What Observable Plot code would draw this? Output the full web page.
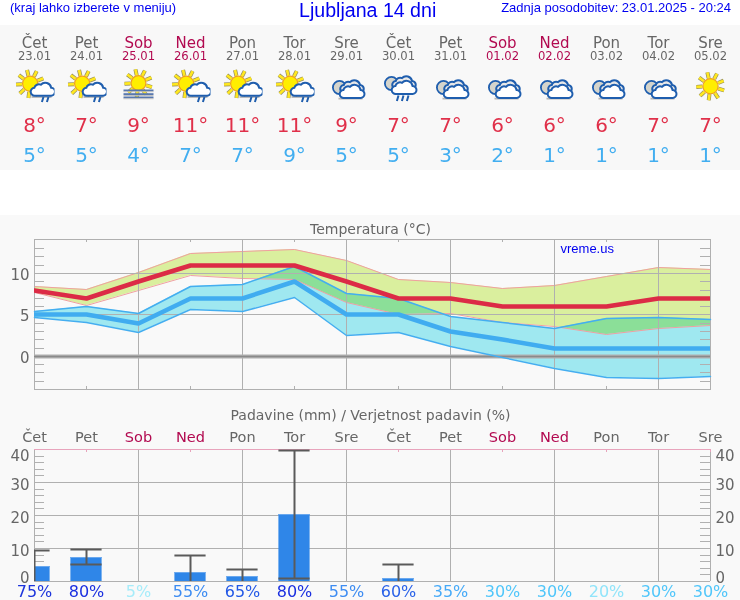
<!DOCTYPE html>
<html><head><meta charset="utf-8">
<script src="https://cdn.jsdelivr.net/npm/d3@7"></script>
<script src="https://cdn.jsdelivr.net/npm/@observablehq/plot@0.6"></script>
<style>
html,body{margin:0;padding:0;background:#fff;overflow:hidden}
#top{position:relative;height:25px;font-family:"Liberation Sans",sans-serif;color:#0000f0}
#top span{position:absolute;white-space:nowrap}
#gap{height:45px;background:#fff}
svg{display:block}
</style></head><body>
<div id="top">
 <span style="left:10px;top:0;font-size:13px;line-height:15px">(kraj lahko izberete v meniju)</span>
 <span style="left:299px;top:0;font-size:19.6px;line-height:20px">Ljubljana 14 dni</span>
 <span style="right:9px;top:0;font-size:13px;line-height:15px">Zadnja posodobitev: 23.01.2025 - 20:24</span>
</div>
<div id="head"></div><div id="gap"></div><div id="temp"></div><div id="rain"></div>
<script>
const names=["Čet","Pet","Sob","Ned","Pon","Tor","Sre","Čet","Pet","Sob","Ned","Pon","Tor","Sre"];
const dates=["23.01","24.01","25.01","26.01","27.01","28.01","29.01","30.01","31.01","01.02","02.02","03.02","04.02","05.02"];
const sky=["sunrain","sunrain","fog","sunrain","sunrain","sunrain","cloud","rain","cloud","cloud","cloud","cloud","cloud","sun"];
const tMax=[8,7,9,11,11,11,9,7,7,6,6,6,7,7];
const tMin=[5,5,4,7,7,9,5,5,3,2,1,1,1,1];
const maxHi=[8.4,8.07,10.16,12.45,12.7,12.93,11.57,9.24,8.9,8.15,8.5,9.64,10.76,10.5];
const maxLo=[7.75,6.14,7.9,9.7,9.44,9.24,6.55,5.1,5.2,4.1,3.6,2.6,3.4,3.7];
const minHi=[5.4,6.06,5.18,8.47,8.7,10.84,7.6,7.0,4.86,4.1,3.4,4.58,4.74,4.46];
const minLo=[4.7,4.1,2.93,5.7,5.38,7.15,2.5,2.9,1.16,-0.1,-1.4,-2.57,-2.7,-2.37];
const precip=[4.5,7.35,0,2.8,1.6,20.4,0,0.8,0,0,0,0,0,0];
const errLo=[0,5.1,0,0,0,1,0,0,0,0,0,0,0,0];
const errHi=[9.3,9.7,0,7.75,3.7,39.8,0,5.1,0,0,0,0,0,0];
const chance=[75,80,5,55,65,80,55,60,35,30,30,20,30,30];
const tempTicks=[0,5,10];
const tempMinor=[-3,-2,-1,1,2,3,4,6,7,8,9,11,12,13];
const rainTicks=[10,20,30];
const rainMinor=[2,4,6,8,12,14,16,18,22,24,26,28,32,34,36,38];

const chanceColor={75:"#1c34dc",80:"#1a2fe0",5:"#a6ecfa",55:"#3d8cf2",65:"#2358e6",60:"#2a62e8",35:"#46aaf8",30:"#50c6fa",20:"#90e4fa"};
const GRAY="#666",WEEKEND="#b20a50",GRID="#b0b0b0",BG="#f9f9f9";
const dayColor=(d,k)=>(names[k]==="Sob"||names[k]==="Ned")?WEEKEND:GRAY;
const days=names.map((_,i)=>i);
const even=days.filter(i=>i%2===0&&i>0&&i<13), odd=days.filter(i=>i%2===1);
const xScale={domain:[0,13],axis:null};
const base={width:740,marginLeft:34,marginRight:30,x:xScale};
const style=bg=>({fontFamily:"'DejaVu Sans'",background:bg,overflow:"visible",display:"block"});
const rows=days.map(i=>({i,maxHi:maxHi[i],maxLo:maxLo[i],minHi:minHi[i],minLo:minLo[i],tMax:tMax[i],tMin:tMin[i],p:precip[i],lo:errLo[i],hi:errHi[i]}));

/* icon glyphs */
function sun(cx,cy,r){let s="";for(let a=0;a<9;a++){const t=a*Math.PI*2/9+0.3,c=Math.cos(t),n=Math.sin(t);
 const l=`x1="${cx+c*(r+1)}" y1="${cy+n*(r+1)}" x2="${cx+c*(r+7)}" y2="${cy+n*(r+7)}"`;
 s+=`<line ${l} stroke="#8f8a60" stroke-width="4"/><line ${l} stroke="#ffe820" stroke-width="2.7"/>`;}
 return s+`<circle cx="${cx}" cy="${cy}" r="${r+.4}" fill="#ffee00" stroke="#f0a020" stroke-width="1.2"/>`;}
const BL="#1f5eae";
function cloud(dx,dy,s,fill){return `<path transform="translate(${dx} ${dy}) scale(${s})" d="M4 16a4 4 0 0 1 -.6 -8a4.8 4.8 0 0 1 6.6 -3.2a6.2 6.2 0 0 1 10.6 3.2a4 4 0 0 1 -.2 8z" fill="${fill}" stroke="${BL}" stroke-width="${2/s}"/>`;}
const shadow=(x,y,w)=>`<rect x="${x}" y="${y}" width="${w}" height="1.8" fill="#888" opacity=".6"/>`;
function drops(xs,y,l){return xs.map(x=>`<line x1="${x}" y1="${y}" x2="${x-1.6}" y2="${y+l}" stroke="${BL}" stroke-width="2"/>`).join("");}
function twoClouds(oy){return `<circle cx="13" cy="${20+oy}" r="6.6" fill="#d4d4cc" stroke="${BL}" stroke-width="1.8"/>`+cloud(14,10+oy,.95,"#e8e8e8")+cloud(13.5,14.5+oy,1,"#fff");}
const iconSvg={
 sunrain:sun(15.7,16.3,7.2)+shadow(17,28.6,20)+cloud(16.5,12.5,.98,"#fff")+drops([29,34],29.5,5),
 fog:sun(20,15.5,7)+[22,25.7,29].map(y=>`<rect x="5" y="${y}" width="30" height="1.8" fill="#5878ae"/><rect x="5" y="${y+1.8}" width="30" height=".9" fill="#bbb"/>`).join(""),
 cloud:shadow(12,30.2,24)+twoClouds(0),
 rain:twoClouds(-4)+drops([20,25,30],28,5.5),
 sun:sun(20,18.7,7.2)
};
const iconSrc=k=>"data:image/svg+xml,"+encodeURIComponent(`<svg xmlns="http://www.w3.org/2000/svg" width="80" height="80" viewBox="0 0 40 40">${iconSvg[k]}</svg>`);

/* header */
const rowText=(vals,size,fill,y,fmt=d=>d)=>Plot.text(vals,{x:(d,k)=>k,text:fmt,frameAnchor:"top",dy:y,lineAnchor:"middle",fontSize:size,fill});
document.getElementById("head").append(Plot.plot({...base,height:145,marginTop:0,marginBottom:0,style:style("#f8f8f8"),
 marks:[
  rowText(names,15,dayColor,17.7),
  rowText(dates,11.6,dayColor,30.7),
  Plot.image(sky,{x:(d,k)=>k,src:iconSrc,width:40,height:40,frameAnchor:"top",dy:62}),
  rowText(tMax,20,"#e0304a",100,d=>d+"°"),
  rowText(tMin,20,"#42aef0",130,d=>d+"°")
 ]}));

/* temperature */
document.getElementById("temp").append(Plot.plot({...base,height:185,marginTop:24,marginBottom:11,style:style(BG),
 y:{domain:[-3.99,14.09],axis:null,round:true},
 marks:[
  Plot.areaY(rows,{x:"i",y1:"maxLo",y2:"maxHi",fill:"#e0f5a2",mixBlendMode:"multiply"}),
  Plot.areaY(rows,{x:"i",y1:"minLo",y2:"minHi",fill:"#a3eef6",mixBlendMode:"multiply"}),
  Plot.line(rows,{x:"i",y:"maxHi",stroke:"#f0a0a0",strokeWidth:1}),
  Plot.line(rows,{x:"i",y:"maxLo",stroke:"#f0a0a0",strokeWidth:1}),
  Plot.ruleY([5,10],{stroke:GRID}),
  Plot.ruleX(even,{stroke:GRID}),
  Plot.ruleY(tempMinor,{x1:0,x2:10/52,stroke:GRID}),
  Plot.ruleY(tempMinor,{x1:13-10/52,x2:13,stroke:GRID}),
  Plot.tickX(odd,{x:d=>d,stroke:GRID,insetBottom:147}),
  Plot.tickX(odd,{x:d=>d,stroke:GRID,insetTop:147}),
  Plot.frame({stroke:GRID}),
  Plot.ruleY([0],{stroke:"#b0b0b0",strokeWidth:4}),
  Plot.ruleY([0],{stroke:"#8a8a8a",strokeWidth:1.4}),
  Plot.line(rows,{x:"i",y:"minHi",stroke:"#44aef0",strokeWidth:1.5}),
  Plot.line(rows,{x:"i",y:"minLo",stroke:"#44aef0",strokeWidth:1.5}),
  Plot.line(rows,{x:"i",y:"tMin",stroke:"#40acf0",strokeWidth:4.5,clip:true}),
  Plot.line(rows,{x:"i",y:"tMax",stroke:"#dc2b46",strokeWidth:4.5,clip:true}),
  Plot.axisY(tempTicks,{anchor:"left",tickSize:0,tickPadding:5,label:null,fontSize:15,color:GRAY,dy:2}),
  Plot.text(["Temperatura (°C)"],{frameAnchor:"top",dy:-10,dx:-2,lineAnchor:"middle",fontSize:14,fill:GRAY}),
  Plot.text(["vreme.us"],{frameAnchor:"top-left",dx:526,dy:9,lineAnchor:"middle",textAnchor:"start",fontSize:13,fontFamily:"Liberation Sans",fill:"#0000f0"})
 ]}));

/* precipitation */
const wet=rows.filter(d=>d.hi>0);
const PINK="#e8a4bc",ERR="#5a5a5a";
const rainAxis=(anchor,ticks,dy)=>Plot.axisY(ticks,{anchor,tickSize:0,tickPadding:5,label:null,fontSize:15,color:GRAY,dy});
document.getElementById("rain").append(Plot.plot({...base,height:200,marginTop:49,marginBottom:19,style:style(BG),
 y:{domain:[0,40],axis:null,round:true},
 marks:[
  Plot.ruleY(rainTicks,{stroke:GRID}),
  Plot.ruleX(even,{stroke:GRID}),
  Plot.ruleY(rainMinor,{x1:0,x2:10/52,stroke:GRID}),
  Plot.ruleY(rainMinor,{x1:13-10/52,x2:13,stroke:GRID}),
  Plot.ruleX([0,13],{stroke:GRID}),
  Plot.ruleY([0],{stroke:GRID}),
  Plot.ruleY([40],{stroke:PINK}),
  Plot.tickX(odd,{x:d=>d,stroke:PINK,insetBottom:129}),
  Plot.rectY(rows.filter(d=>d.p>0),{x1:d=>d.i-.3,x2:d=>d.i+.3,y1:0,y2:"p",fill:"#2f86e8",clip:true}),
  Plot.ruleY(rows.filter(d=>d.p>0),{y:"p",x1:d=>d.i-.3,x2:d=>d.i+.3,stroke:"#6aa8ee",clip:true}),
  Plot.ruleX(wet,{x:"i",y1:"lo",y2:"hi",stroke:ERR,strokeWidth:2,clip:true}),
  Plot.ruleY(wet,{y:"hi",x1:d=>d.i-.3,x2:d=>d.i+.3,stroke:ERR,strokeWidth:2,clip:true}),
  Plot.ruleY(wet.filter(d=>d.lo>0),{y:"lo",x1:d=>d.i-.3,x2:d=>d.i+.3,stroke:ERR,strokeWidth:2,clip:true}),
  rainAxis("left",rainTicks,3),rainAxis("left",[40],7),rainAxis("left",[0],-3),
  rainAxis("right",rainTicks,3),rainAxis("right",[40],7),rainAxis("right",[0],-3),
  Plot.text(["Padavine (mm) / Verjetnost padavin (%)"],{frameAnchor:"top",dy:-34,dx:-2,lineAnchor:"middle",fontSize:14,fill:GRAY}),
  Plot.text(names,{x:(d,k)=>k,frameAnchor:"top",dy:-12,lineAnchor:"middle",fontSize:14.5,fill:dayColor}),
  Plot.text(chance,{x:(d,k)=>k,text:d=>d+"%",frameAnchor:"bottom",dy:10,lineAnchor:"middle",fontSize:16,fill:d=>chanceColor[d]})
 ]}));
</script></body></html>
